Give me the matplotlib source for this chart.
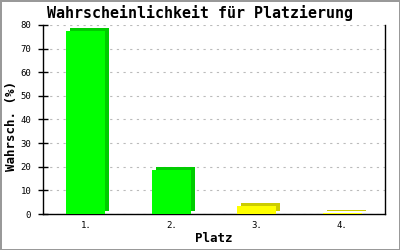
import matplotlib
matplotlib.use('Agg')
import matplotlib.pyplot as plt
import matplotlib.transforms as mtransforms
import numpy as np

places = ['1.', '2.', '3.', '4.']
probs = [77.6, 18.6, 3.3, 0.6]
front_colors = ['#00ff00', '#00ff00', '#ffff00', '#ffff00']
side_colors = ['#00cc00', '#00cc00', '#cccc00', '#cccc00']
yticks = [0, 10, 20, 30, 40, 50, 60, 70, 80]

mono = 'DejaVu Sans Mono'

fig = plt.figure(figsize=(4, 2.5), dpi=100)
fig.patch.set_facecolor('white')
fig.patch.set_edgecolor('#999999')
fig.patch.set_linewidth(2)

# axes box in pixels: x 43..385, y 25..214
ax = fig.add_axes([43 / 400, 1 - 214 / 250, 342 / 400, 189 / 250])

x = np.arange(len(places))
w = 0.46

# darker "depth" bar shifted right/up by a few pixels
shift = mtransforms.offset_copy(ax.transData, fig=fig, x=4, y=3, units='dots')
ax.bar(x, probs, width=w, color=side_colors, transform=shift, zorder=2)
ax.bar(x, probs, width=w, color=front_colors, zorder=3)

ax.set_xlim(-0.5, len(places) - 0.5)
ax.set_ylim(0, 80)
ax.set_yticks(yticks)
ax.set_xticks(x)
ax.set_xticklabels(places)
ax.yaxis.grid(True, linestyle=(0, (2, 4)), color='#bbbbbb', linewidth=0.8, zorder=0)
ax.set_axisbelow(True)

for s in ['left', 'bottom', 'right']:
    ax.spines[s].set_color('black')
    ax.spines[s].set_linewidth(1)
ax.spines['top'].set_visible(False)

ax.tick_params(axis='y', direction='inout', length=7, width=1, labelsize=6.5, pad=5)
ax.tick_params(axis='x', length=0, labelsize=6.5, pad=5)
for lab in ax.get_xticklabels() + ax.get_yticklabels():
    lab.set_family(mono)

fig.text(0.5, 1 - 13 / 250, 'Wahrscheinlichkeit für Platzierung',
         ha='center', va='center', family=mono, fontweight='bold', fontsize=10.8)
fig.text(214 / 400, 1 - 238 / 250, 'Platz', ha='center', va='center',
         family=mono, fontweight='bold', fontsize=9)
fig.text(12 / 400, 1 - 126 / 250, 'Wahrsch. (%)', ha='center', va='center',
         rotation=90, family=mono, fontweight='bold', fontsize=9)

fig.savefig('out.png', dpi=100, facecolor=fig.get_facecolor(), edgecolor=fig.get_edgecolor())
